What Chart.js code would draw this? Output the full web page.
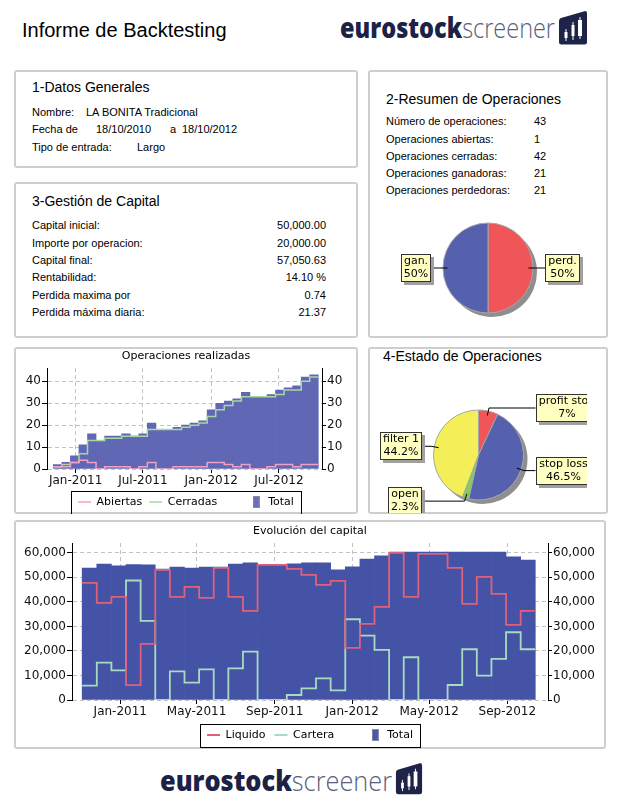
<!DOCTYPE html>
<html><head><meta charset="utf-8">
<script src="https://cdn.jsdelivr.net/npm/chart.js@4.4.1/dist/chart.umd.min.js"></script>
<style>
html,body{margin:0;padding:0;background:#fff;}
body{width:623px;height:801px;position:relative;overflow:hidden;font-family:"Liberation Sans",Arial,sans-serif;color:#000;}
.panel{position:absolute;box-sizing:border-box;border:2px solid #cecece;border-radius:3px;}
.t{position:absolute;white-space:nowrap;}
.ptitle{font-size:14px;line-height:16px;}
.row{font-size:11px;line-height:14px;}
canvas{position:absolute;}
.logotxt{position:absolute;white-space:nowrap;font-family:"Open Sans","Lato",sans-serif;font-size:28px;line-height:30px;transform-origin:0 50%;}
.logotxt .eu{font-weight:800;color:#1b2246;}
.logotxt .sc{font-weight:300;color:#5a607c;}
svg.icon{position:absolute;}
</style></head>
<body>
<script>
// ---------- DATA ----------
const periodStarts = ['2010-11-02','2010-11-25','2010-12-18','2011-01-10','2011-02-02','2011-02-25','2011-03-20','2011-04-12','2011-05-05','2011-05-28','2011-06-20','2011-07-13','2011-08-05','2011-08-28','2011-09-20','2011-10-13','2011-11-05','2011-11-28','2011-12-21','2012-01-13','2012-02-05','2012-02-28','2012-03-22','2012-04-14','2012-05-07','2012-05-30','2012-06-22','2012-07-15','2012-08-07','2012-08-30','2012-09-22'];
const periodEnd = '2012-10-15';

const opsTotal    = [2,3,6,11,16,13,15,15,16,15,16,21,18,18,19,20,21,22,27,30,31,32,35,33,33,34,36,37,38,42,43];
const opsAbiertas = [1,1,3,4,3,0,1,1,1,0,1,3,0,0,1,1,1,1,3,3,2,1,2,0,0,1,2,2,1,2,2];
const opsCerradas = [1,2,3,7,13,13,14,14,15,15,15,18,18,18,18,19,20,21,24,27,29,31,33,33,33,33,34,36,36,40,42];
const opsTickDates  = ['2011-01-01','2011-07-01','2012-01-01','2012-07-01'];
const opsTickLabels = ['Jan-2011','Jul-2011','Jan-2012','Jul-2012'];
const opsYTicks = [0,10,20,30,40];

const capTotal   = [53800,55400,54700,55200,55100,53400,54200,53800,54200,54200,55400,55900,55200,55200,55500,55900,55900,53100,54300,57400,58800,60300,60300,60300,60300,60300,60300,60300,60300,58400,57050];
const capLiquido = [47750,39600,42040,6100,22860,53060,42040,46120,41630,53880,42040,36330,55100,55100,53470,51020,46940,48570,21220,31020,37960,60000,42040,59590,59590,53880,39180,50200,43270,30610,36330];
const capCartera = [5850,15240,12110,48710,32240,0,11700,7070,12520,0,12930,19730,0,0,2040,4760,8840,3950,32920,26250,20410,0,17420,0,0,6120,20680,9930,16730,27620,20680];
const capTickDates  = ['2011-01-01','2011-05-01','2011-09-01','2012-01-01','2012-05-01','2012-09-01'];
const capTickLabels = ['Jan-2011','May-2011','Sep-2011','Jan-2012','May-2012','Sep-2012'];
const capYTicks = [0,10000,20000,30000,40000,50000,60000];

const resumenLabels = ['perd.','gan.'];
const resumenValues = [50,50];
const estadoLabels = ['profit stop','stop loss','open','filter 1'];
const estadoValues = [7,46.5,2.3,44.2];
</script>

<div class="t" style="left:22px;top:19px;font-size:20px;line-height:22px;">Informe de Backtesting</div>

<div class="logotxt" id="logo1" style="left:340px;top:12px;"><span class="eu">eurostock</span><span class="sc">screener</span></div>
<svg class="icon" style="left:558px;top:10px" width="30" height="35" viewBox="0 0 30 35">
<path d="M3,8 Q1,8.4 1,11 L1,32 Q1,34.5 3.5,34.5 L26.5,34.5 Q29,34.5 29,32 L29,3.5 Q29,0.6 26.5,1.2 Z" fill="#1d2448"/>
<g stroke="#fff" stroke-width="1"><line x1="8" y1="19" x2="8" y2="31"/><line x1="15" y1="12" x2="15" y2="30"/><line x1="22" y1="7" x2="22" y2="29"/></g>
<g fill="#fff"><rect x="6.5" y="22" width="3" height="6"/><rect x="13.5" y="15" width="3" height="11"/><rect x="20" y="10" width="4" height="16"/></g>
</svg>

<div class="panel" style="left:14px;top:70px;width:344px;height:98px;"></div>
<div class="t ptitle" style="left:32px;top:79px;">1-Datos Generales</div>
<div class="t row" style="left:32px;top:105px;">Nombre:</div><div class="t row" style="left:86px;top:105px;">LA BONITA Tradicional</div>
<div class="t row" style="left:32px;top:122px;">Fecha de</div><div class="t row" style="left:96px;top:122px;">18/10/2010</div><div class="t row" style="left:170px;top:122px;">a</div><div class="t row" style="left:182px;top:122px;">18/10/2012</div>
<div class="t row" style="left:32px;top:140px;">Tipo de entrada:</div><div class="t row" style="left:137px;top:140px;">Largo</div>

<div class="panel" style="left:368px;top:70px;width:240px;height:268px;"></div>
<div class="t ptitle" style="left:386px;top:91px;">2-Resumen de Operaciones</div>
<div class="t row" style="left:386px;top:114px;">Número de operaciones:</div><div class="t row" style="left:534px;top:114px;">43</div>
<div class="t row" style="left:386px;top:132px;">Operaciones abiertas:</div><div class="t row" style="left:534px;top:132px;">1</div>
<div class="t row" style="left:386px;top:149px;">Operaciones cerradas:</div><div class="t row" style="left:534px;top:149px;">42</div>
<div class="t row" style="left:386px;top:166px;">Operaciones ganadoras:</div><div class="t row" style="left:534px;top:166px;">21</div>
<div class="t row" style="left:386px;top:183px;">Operaciones perdedoras:</div><div class="t row" style="left:534px;top:183px;">21</div>

<div class="panel" style="left:14px;top:182px;width:344px;height:156px;"></div>
<div class="t ptitle" style="left:32px;top:193px;">3-Gestión de Capital</div>
<div class="t row" style="left:32px;top:218px;">Capital inicial:</div><div class="t row" style="right:297px;top:218px;">50,000.00</div>
<div class="t row" style="left:32px;top:236px;">Importe por operacion:</div><div class="t row" style="right:297px;top:236px;">20,000.00</div>
<div class="t row" style="left:32px;top:253px;">Capital final:</div><div class="t row" style="right:297px;top:253px;">57,050.63</div>
<div class="t row" style="left:32px;top:270px;">Rentabilidad:</div><div class="t row" style="right:297px;top:270px;">14.10 %</div>
<div class="t row" style="left:32px;top:288px;">Perdida maxima por</div><div class="t row" style="right:297px;top:288px;">0.74</div>
<div class="t row" style="left:32px;top:305px;">Perdida máxima diaria:</div><div class="t row" style="right:297px;top:305px;">21.37</div>

<div class="panel" style="left:14px;top:347px;width:344px;height:167px;"></div>
<div class="panel" style="left:368px;top:347px;width:240px;height:167px;"></div>
<div class="t ptitle" style="left:383px;top:348px;">4-Estado de Operaciones</div>
<div class="panel" style="left:14px;top:520px;width:592px;height:229px;"></div>

<canvas id="opsC" width="340" height="166" style="left:16px;top:348px;"></canvas>
<canvas id="pie1" width="236" height="136" style="left:370px;top:200px;"></canvas>
<canvas id="pie2" width="217" height="145" style="left:370px;top:368px;"></canvas>
<canvas id="capC" width="588" height="226" style="left:16px;top:522px;"></canvas>

<div class="logotxt" id="logo2" style="left:160px;top:765px;"><span class="eu">eurostock</span><span class="sc">screener</span></div>
<svg class="icon" style="left:395px;top:762px" width="28" height="33" viewBox="0 0 30 35">
<path d="M3,8 Q1,8.4 1,11 L1,32 Q1,34.5 3.5,34.5 L26.5,34.5 Q29,34.5 29,32 L29,3.5 Q29,0.6 26.5,1.2 Z" fill="#1d2448"/>
<g stroke="#fff" stroke-width="1"><line x1="8" y1="19" x2="8" y2="31"/><line x1="15" y1="12" x2="15" y2="30"/><line x1="22" y1="7" x2="22" y2="29"/></g>
<g fill="#fff"><rect x="6.5" y="22" width="3" height="6"/><rect x="13.5" y="15" width="3" height="11"/><rect x="20" y="10" width="4" height="16"/></g>
</svg>

<script>
function fitLogo(id, w){ const el=document.getElementById(id); const r=el.getBoundingClientRect().width; el.style.transform='scaleX('+(w/r)+')'; }
fitLogo('logo1',215); fitLogo('logo2',232);

Chart.defaults.font.family = '"DejaVu Sans", sans-serif';
Chart.defaults.color = '#000';

const dayNum = s => { const [y,m,d] = s.split('-').map(Number); return (Date.UTC(y,m-1,d) - Date.UTC(2011,0,1)) / 86400000; };
const startDays = periodStarts.map(dayNum);
const endDays = startDays.slice(1).concat([dayNum(periodEnd)]);
const barPts = vals => vals.map((v,i) => ({x:(startDays[i]+endDays[i])/2, y:v}));
const stepPts = vals => vals.map((v,i) => ({x:startDays[i], y:v})).concat([{x:endDays[endDays.length-1], y:vals[vals.length-1]}]);

function makeIcon(color){ const c=document.createElement('canvas'); c.width=7; c.height=12; const g=c.getContext('2d'); g.fillStyle=color; g.fillRect(0,0,7,12); g.strokeStyle='#8a8aa8'; g.strokeRect(0.5,0.5,6,11); return c; }

const legendBox = {
  id:'legendBox',
  afterDraw(chart){
    const hb = chart.legend && chart.legend.legendHitBoxes; if(!hb || !hb.length) return;
    const l = Math.min(...hb.map(b=>b.left))-7, r = Math.max(...hb.map(b=>b.left+b.width))+7;
    const t = Math.min(...hb.map(b=>b.top))-6, bt = Math.max(...hb.map(b=>b.top+b.height))+6;
    const ctx=chart.ctx; ctx.save(); ctx.strokeStyle='#000'; ctx.lineWidth=1;
    ctx.strokeRect(Math.round(l)+0.5, Math.round(t)+0.5, Math.round(r-l), Math.round(bt-t)); ctx.restore();
  }
};
function genLabels(chart){
  const items = Chart.defaults.plugins.legend.labels.generateLabels(chart);
  items.forEach(it => { const ds = chart.data.datasets[it.datasetIndex]; if (ds.legendIcon) it.pointStyle = ds.legendIcon; if (ds.legendPad) it.text += ds.legendPad; it.fontColor='#000'; });
  return items;
}
const dash=[4,3];
function xScale(min,max,tickDates,tickLabels,h){
  const tv = tickDates.map(dayNum);
  return { type:'linear', min, max, offset:false,
    afterBuildTicks: ax => { ax.ticks = tv.map(v=>({value:v})); },
    afterFit: ax => { ax.height = h; },
    ticks:{ autoSkip:false, maxRotation:0, font:{size:12}, color:'#111', padding:1, callback:(v)=>tickLabels[tv.indexOf(v)] },
    grid:{ offset:false, color:'#c2c2c2', tickColor:'#000', tickLength:4, tickBorderDash:[] },
    border:{ display:false, dash } };
}
function yScale(pos,min,max,tickVals,w,fmt){
  const ys = { position:pos, min, max,
    afterBuildTicks: ax => { ax.ticks = tickVals.map(v=>({value:v})); },
    afterFit: ax => { ax.width = w; },
    ticks:{ font:{size:12}, color:'#111', padding:1 },
    grid:{ drawOnChartArea: pos==='left', color:'#c2c2c2', tickColor:'#000', tickLength:pos==='left'?5:4, tickBorderDash:[] },
    border:{ display:true, color:'#000', width:1, dash } };
  if (fmt) ys.ticks.callback = fmt;
  return ys;
}

// ---- Operaciones realizadas ----
new Chart(document.getElementById('opsC'), {
  type:'bar',
  data:{ datasets:[
    { type:'line', label:'Abiertas', data:stepPts(opsAbiertas), borderColor:'#f0a0c4', borderWidth:1.5, pointRadius:0, stepped:true, order:0, pointStyle:'line' },
    { type:'line', label:'Cerradas', data:stepPts(opsCerradas), borderColor:'#a6d8a2', borderWidth:1.5, pointRadius:0, stepped:true, order:0, pointStyle:'line', legendPad:'\u2003\u2003 ' },
    { type:'bar', label:'Total', data:barPts(opsTotal), backgroundColor:'#6067b4', barPercentage:1, categoryPercentage:1, order:1, legendIcon:makeIcon('#6a70ba') }
  ]},
  options:{ animation:false, responsive:false, events:[],
    layout:{ padding:0 },
    plugins:{
      title:{ display:true, text:'Operaciones realizadas', font:{size:11, weight:'normal'}, color:'#000', padding:{top:2,bottom:5} },
      legend:{ position:'bottom', maxHeight:24.5, labels:{ usePointStyle:true, pointStyleWidth:13, padding:7, font:{size:11}, color:'#000', generateLabels:genLabels } },
      tooltip:{ enabled:false }
    },
    scales:{
      x: xScale(-77, 663, opsTickDates, opsTickLabels, 20.5),
      y: yScale('left', 0, 46, opsYTicks, 31),
      y2: yScale('right', 0, 46, opsYTicks, 34)
    }
  },
  plugins:[legendBox]
});

// ---- Evolución del capital ----
const fmtK = v => Number(v).toLocaleString('en-US');
new Chart(document.getElementById('capC'), {
  type:'bar',
  data:{ datasets:[
    { type:'line', label:'Liquido', data:stepPts(capLiquido), borderColor:'#e0607c', borderWidth:1.8, pointRadius:0, stepped:true, order:0, pointStyle:'line' },
    { type:'line', label:'Cartera', data:stepPts(capCartera), borderColor:'#a8dcc0', borderWidth:1.8, pointRadius:0, stepped:true, order:0, pointStyle:'line', legendPad:'\u2003\u2003 ' },
    { type:'bar', label:'Total', data:barPts(capTotal), backgroundColor:'#4453a6', barPercentage:1, categoryPercentage:1, order:1, legendIcon:makeIcon('#4a58aa') }
  ]},
  options:{ animation:false, responsive:false, events:[],
    layout:{ padding:0 },
    plugins:{
      title:{ display:true, text:'Evolución del capital', font:{size:11, weight:'normal'}, color:'#000', padding:{top:2.4,bottom:5.4} },
      legend:{ position:'bottom', maxHeight:27.5, labels:{ usePointStyle:true, pointStyleWidth:13, padding:9, font:{size:11}, color:'#000', generateLabels:genLabels } },
      tooltip:{ enabled:false }
    },
    scales:{
      x: xScale(-76, 673, capTickDates, capTickLabels, 20.5),
      y: yScale('left', 0, 64000, capYTicks, 56, fmtK),
      y2: yScale('right', 0, 64000, capYTicks, 56, fmtK)
    }
  },
  plugins:[legendBox]
});

// ---- Pies ----
const pieShadow = {
  id:'pieShadow',
  beforeDatasetsDraw(chart){
    const a = chart.getDatasetMeta(0).data[0]; if(!a) return;
    const ctx=chart.ctx; ctx.save(); ctx.fillStyle='#8e8e8e'; ctx.beginPath(); ctx.arc(a.x+4, a.y+4, a.outerRadius, 0, Math.PI*2); ctx.fill(); ctx.restore();
  }
};
const callouts = {
  id:'callouts',
  afterDatasetsDraw(chart){
    const ctx=chart.ctx, meta=chart.getDatasetMeta(0), ds=chart.data.datasets[0];
    ctx.save(); ctx.font='11px "DejaVu Sans"';
    meta.data.forEach((arc,i)=>{
      const p = arc.getProps(['x','y','startAngle','endAngle','outerRadius'], true);
      const mid=(p.startAngle+p.endAngle)/2, c=Math.cos(mid), s=Math.sin(mid), r=p.outerRadius;
      const ax=p.x+c*r*0.9, ay=p.y+s*r*0.9, ex=p.x+c*r*1.07, ey=p.y+s*r*1.07;
      const right = c>=0;
      const edge = right ? p.x+r+12 : p.x-r-12;
      const lines=[chart.data.labels[i], ds.data[i]+'%'];
      const tw=Math.max(...lines.map(t=>ctx.measureText(t).width));
      const bw=Math.round(tw+6), bh=28;
      const bx=Math.round(right?edge:edge-bw), by=Math.round(ey-bh/2);
      ctx.strokeStyle='#000'; ctx.lineWidth=1;
      ctx.beginPath(); ctx.moveTo(ax,ay); ctx.lineTo(ex,ey); ctx.lineTo(edge,ey); ctx.stroke();
      ctx.fillStyle='#a0a0a0'; ctx.fillRect(bx+3,by+3,bw,bh);
      ctx.fillStyle='#ffffc2'; ctx.fillRect(bx,by,bw,bh);
      ctx.strokeStyle='#333'; ctx.strokeRect(bx+0.5,by+0.5,bw-1,bh-1);
      ctx.fillStyle='#000'; ctx.textAlign='center'; ctx.textBaseline='middle';
      ctx.fillText(lines[0], bx+bw/2, by+bh/2-6.5);
      ctx.fillText(lines[1], bx+bw/2, by+bh/2+6.5);
    });
    ctx.restore();
  }
};
function pie(id, labels, values, colors, pad){
  new Chart(document.getElementById(id), {
    type:'pie',
    data:{ labels, datasets:[{ data:values, backgroundColor:colors, borderColor:'#a6a6a6', borderWidth:1, radius:45 }] },
    options:{ animation:false, responsive:false, events:[], layout:{padding:pad},
      plugins:{ legend:{display:false}, tooltip:{enabled:false} } },
    plugins:[pieShadow, callouts]
  });
}
pie('pie1', resumenLabels, resumenValues, ['#f05659','#5561ae'], 0);
pie('pie2', estadoLabels, estadoValues, ['#f05659','#5561ae','#84cc5c','#f4ef58'], {top:29,bottom:0,left:0,right:0});
</script>
</body></html>
